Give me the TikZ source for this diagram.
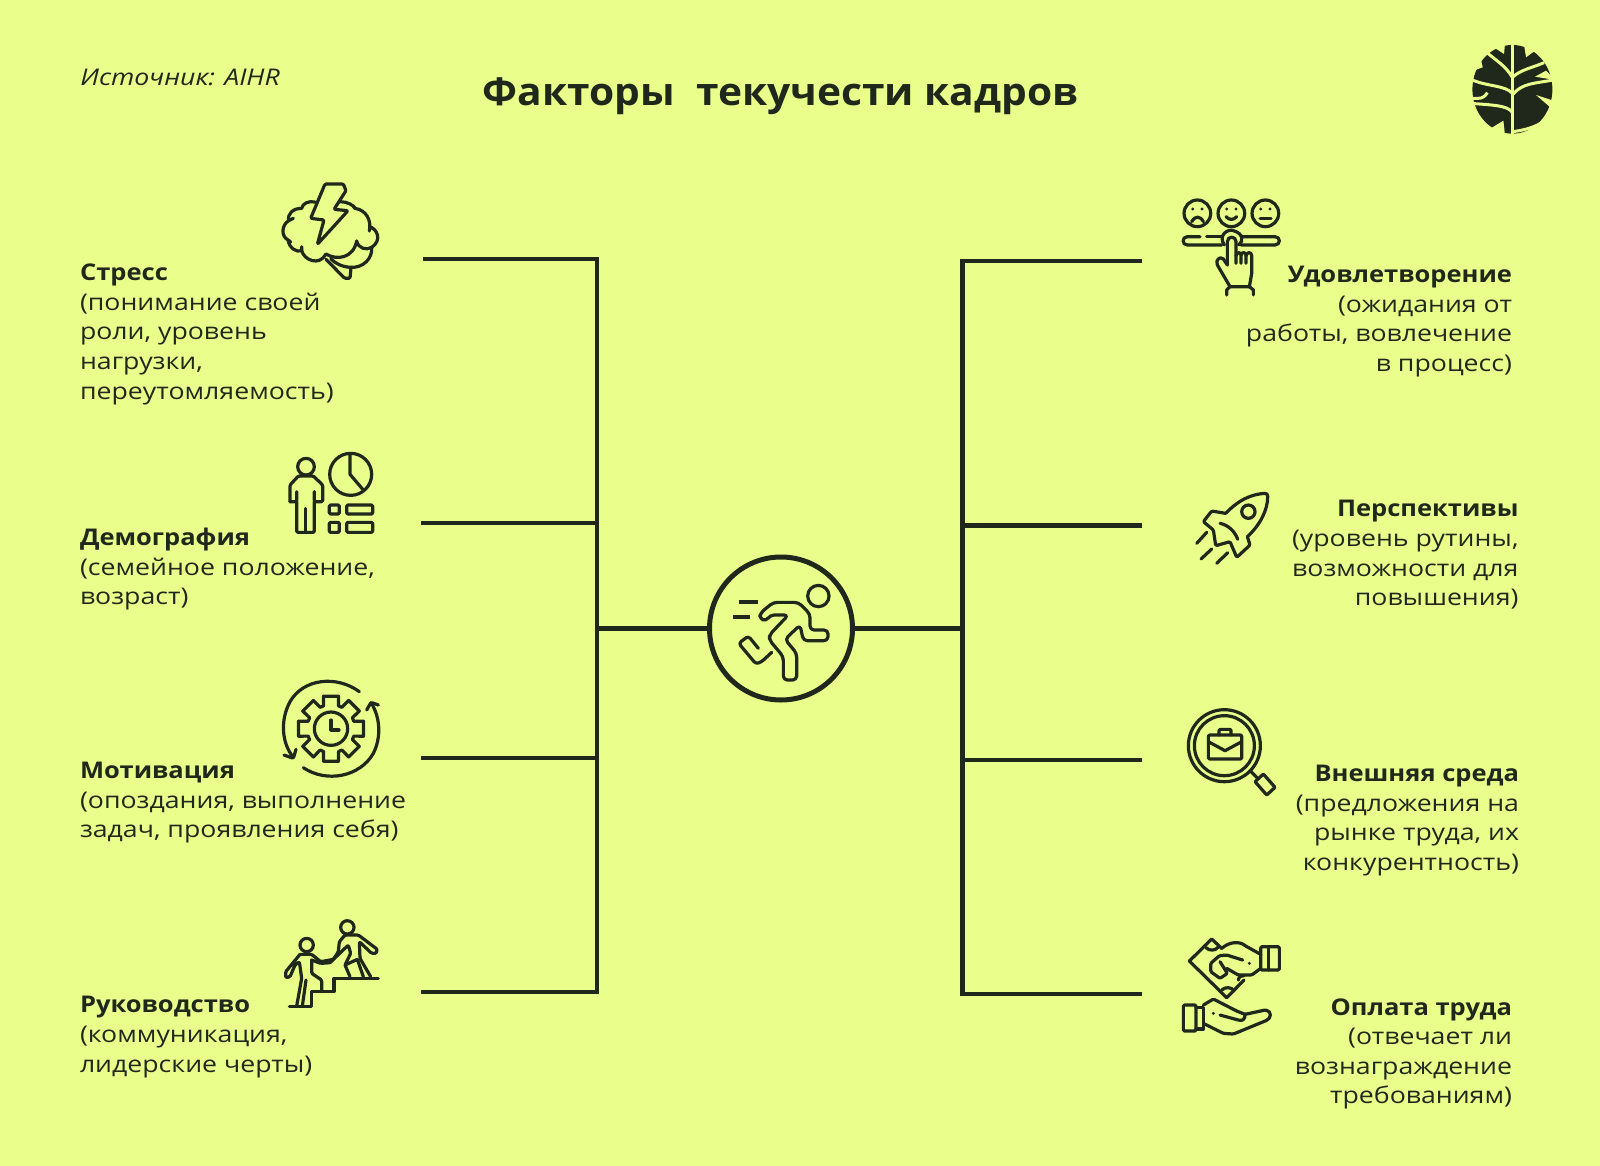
\documentclass[tikz,border=0pt]{standalone}
\usepackage{fontspec}
\setmainfont[FakeStretch=1.16]{Open Sans}
\newfontfamily\headfam[FakeStretch=1.11]{Open Sans}
\newfontfamily\titlefam[FakeStretch=1.06]{Open Sans}
\newcommand{\hd}[1]{{\headfam\bfseries #1}}
\usetikzlibrary{calc}
\definecolor{bgc}{HTML}{EAFF8B}
\definecolor{dk}{HTML}{20281C}
\tikzset{
  zm/.style 2 args={x=0.16667pt,y=-0.16667pt,shift={(#1*3,#2*3)},line width=1.6pt,line cap=round,line join=round,draw=dk,rounded corners=0.6pt},
  conn/.style={draw=dk,line width=2.2pt,line join=miter},
  ltext/.style={anchor=north west,align=left,inner sep=0pt,outer sep=0pt,text=dk,font=\fontsize{11.5pt}{14.8pt}\selectfont},
  rtext/.style={anchor=north east,align=right,inner sep=0pt,outer sep=0pt,text=dk,font=\fontsize{11.5pt}{14.8pt}\selectfont},
  hub/.style={circle,draw=dk,line width=2.5pt,minimum size=71.5pt,inner sep=0pt},
  sc/.style={rounded corners=0pt},
}
\begin{document}
\begin{tikzpicture}[x=0.5pt,y=-0.5pt]
\fill[bgc] (0,0) rectangle (1600,1166);
\useasboundingbox (0,0) rectangle (1600,1166);

% header
\node[anchor=center,inner sep=0pt,text=dk,font=\fontsize{19.2pt}{23pt}\selectfont\titlefam\bfseries] (title) at (780.5,96) {Факторы\ \ текучести кадров};
\node[anchor=west,inner sep=0pt,text=dk,font=\fontsize{11.5pt}{14pt}\selectfont\itshape] (source) at (80,77) {Источник: AIHR};

% hub and connectors
\node[hub] (center) at (781,628.5) {};
\coordinate (lspine) at (597,628.5);
\coordinate (rspine) at (962.5,628.5);
\coordinate (la) at (423,259);
\coordinate (lat) at (597,259);
\coordinate (lb) at (421,523);
\coordinate (lbt) at (597,523);
\coordinate (lc) at (421,758);
\coordinate (lct) at (597,758);
\coordinate (ld) at (421,992);
\coordinate (ldt) at (597,992);
\coordinate (ra) at (1142,261);
\coordinate (rat) at (962.5,261);
\coordinate (rb) at (1142,525.5);
\coordinate (rbt) at (962.5,525.5);
\coordinate (rc) at (1142,760);
\coordinate (rct) at (962.5,760);
\coordinate (rd) at (1142,994);
\coordinate (rdt) at (962.5,994);
\draw[conn] (la) -- (lat) -- (ldt) -- (ld);
\draw[conn] (lb) -- (lbt);
\draw[conn] (lc) -- (lct);
\draw[conn] (lspine) -- (center);
\draw[conn] (ra) -- (rat) -- (rdt) -- (rd);
\draw[conn] (rb) -- (rbt);
\draw[conn] (rc) -- (rct);
\draw[conn] (rspine) -- (center);

% left texts
\node[ltext] (stress) at (80,264) {\hd{Стресс}\\(понимание своей\\роли, уровень\\нагрузки,\\переутомляемость)};
\node[ltext] (demo) at (80,528) {\hd{Демография}\\(семейное положение,\\возраст)};
\node[ltext] (motiv) at (80,762) {\hd{Мотивация}\\(опоздания, выполнение\\задач, проявления себя)};
\node[ltext] (lead) at (80,996.5) {\hd{Руководство}\\(коммуникация,\\лидерские черты)};
% right texts
\node[rtext] (satis) at (1512,266) {\hd{Удовлетворение}\\(ожидания от\\работы, вовлечение\\в процесс)};
\node[rtext] (persp) at (1518.5,500.5) {\hd{Перспективы}\\(уровень рутины,\\возможности для\\повышения)};
\node[rtext] (envir) at (1519,765) {\hd{Внешняя среда}\\(предложения на\\рынке труда, их\\конкурентность)};
\node[rtext] (pay) at (1512,998.5) {\hd{Оплата труда}\\(отвечает ли\\вознаграждение\\требованиям)};

% brain
\begin{scope}[zm={260}{160}]
\draw (195,72) -- (250,72) -- (258,92) -- (222,148) -- (264,152) -- (172,253) -- (192,180) -- (152,175) -- cycle;
\draw[sc] (165,126) .. controls (145,122) and (128,130) .. (125,145) .. controls (100,145) and (82,160) .. (86,182) .. controls (65,195) and (62,228) .. (84,240) .. controls (88,265) and (110,278) .. (125,272) .. controls (132,300) and (178,320) .. (198,282) .. controls (230,302) and (280,295) .. (290,243);
\draw[sc] (86,182) -- (100,175) (84,240) -- (92,246) (125,272) -- (125,260);
\draw[sc] (240,125) .. controls (262,125) and (280,135) .. (285,145) .. controls (318,150) and (335,180) .. (328,213) (328,200) .. controls (350,205) and (368,240) .. (335,262) .. controls (318,272) and (295,265) .. (290,243);
\draw[sc] (285,145) -- (280,138);
\draw[sc] (335,262) .. controls (338,295) and (310,325) .. (270,322) .. controls (245,320) and (225,310) .. (212,296);
\draw (198,298) -- (254,355) -- (270,355) -- (273,322);
\end{scope}

% person + chart
\begin{scope}[zm={270}{440}]
\draw (108,80) circle (25);
\draw (60,185) -- (60,135) -- (85,108) -- (130,108) -- (158,135) -- (158,185) -- (133,185) -- (133,155);
\draw (60,185) -- (80,185) -- (80,155);
\draw (80,185) -- (80,277) -- (133,277) -- (133,185);
\draw (107,205) -- (107,277);
\draw (242,103) circle (63);
\draw[sc] (240,42) -- (240,103) -- (280,150);
\draw (178,195) rectangle (208,222);
\draw (230,195) rectangle (308,222);
\draw (178,247) rectangle (208,277);
\draw (230,247) rectangle (308,277);
\end{scope}

% gear
\begin{scope}[zm={270}{670}]
\draw[sc] (268,65) .. controls (200,15) and (100,25) .. (60,95) .. controls (30,150) and (35,220) .. (70,262);
\draw (42,255) -- (70,265) -- (78,238);
\draw[sc] (100,293) .. controls (170,340) and (270,320) .. (310,250) .. controls (335,200) and (330,140) .. (303,98);
\draw (290,120) -- (303,97) -- (325,105);
\begin{scope}[shift={(183,176)},rounded corners=0pt]
\foreach \a in {0,45,...,315}{
  \draw (\a-18:72) -- (\a-13:100) -- (\a+13:100) -- (\a+18:72) -- (\a+27:72);
}
\draw (0,0) circle (50);
\draw (0,-26) -- (0,4) -- (24,4);
\end{scope}
\end{scope}

% leader
\begin{scope}[zm={270}{910}]
\draw[sc] (58,290) -- (125,290) -- (125,245) -- (192,245) -- (192,205) -- (325,205);
\draw (232,52) circle (20);
\draw (110,105) circle (20);
\draw (90,133) -- (125,133) -- (152,155) -- (190,148) -- (205,125) -- (208,95) -- (225,75) -- (265,75) -- (322,118) -- (318,130) -- (305,130) -- (268,95) -- (270,145) -- (302,200);
\draw (90,133) -- (47,185) -- (47,203) -- (60,200) -- (75,165) -- (88,155) -- (95,205) -- (80,288);
\draw (125,150) -- (125,190) -- (155,210) -- (155,245);
\draw (108,210) -- (97,288);
\draw (180,158) -- (152,160) -- (125,150);
\draw (180,158) -- (235,105) -- (242,130) -- (225,165) -- (240,200);
\draw (262,148) -- (225,165) (262,148) -- (280,200);
\end{scope}

% runner
\begin{scope}[zm={690}{540}]
\draw (385,168) circle (32);
\draw[line width=2pt,line cap=butt,sc] (147,186) -- (205,186) (128,230) -- (180,230);
\draw[rounded corners=2pt] (250,187) -- (325,187) -- (360,222) -- (360,270) -- (414,270) -- (414,302) -- (340,302) -- (330,255) -- (285,298) -- (320,340) -- (320,420) -- (280,420) -- (280,350) -- (238,300) -- (238,285) -- (295,225) -- (240,225) -- (228,244) -- (208,235) -- (212,218) -- cycle;
\draw[rounded corners=1.5pt] (205,325) -- (175,288) -- (146,310) -- (198,372) -- (215,365) -- (245,337);
\end{scope}

% satisfaction
\begin{scope}[zm={1170}{185}]
\draw (82,85) circle (40);
\draw (184,85) circle (40);
\draw (286,85) circle (40);
\fill[dk] (68,72) circle (5) (96,72) circle (5) (170,72) circle (5) (198,72) circle (5) (272,72) circle (5) (300,72) circle (5);
\draw[sc] (65,110) .. controls (75,92) and (90,92) .. (100,110);
\draw[sc] (168,95) .. controls (178,106) and (190,106) .. (200,95);
\draw[sc] (270,100) -- (303,100);
\draw[sc] (90,155) -- (52,155) .. controls (35,155) and (35,180) .. (52,180) -- (155,180);
\draw[sc] (110,155) -- (155,155);
\draw[sc] (213,155) -- (315,155) .. controls (332,155) and (332,180) .. (315,180) -- (213,180);
\draw[sc] (163,180) .. controls (142,150) and (175,130) .. (190,137) .. controls (220,145) and (222,170) .. (205,180);
\draw[sc] (172,240) -- (172,170) .. controls (172,152) and (198,152) .. (198,170) -- (198,235);
\draw[sc] (198,212) .. controls (200,200) and (213,200) .. (213,212) -- (213,235);
\draw[sc] (213,210) .. controls (215,200) and (228,200) .. (228,212) -- (228,235);
\draw[sc] (228,212) .. controls (230,200) and (245,200) .. (245,212) -- (245,265) -- (238,305);
\draw[sc] (172,240) -- (160,222) .. controls (150,212) and (135,225) .. (142,240) -- (180,305) -- (238,305);
\draw[sc] (170,330) -- (170,315) -- (180,305);
\draw[sc] (250,330) -- (250,315) -- (238,305);
\end{scope}

% rocket
\begin{scope}[zm={1185}{480}]
\draw[sc] (122,100) .. controls (165,55) and (205,42) .. (240,40) .. controls (246,40) and (248,44) .. (248,50) .. controls (248,90) and (225,135) .. (187,170);
\draw (122,100) -- (80,93) -- (55,125) -- (85,150) -- (92,197) -- (135,185) -- (155,232) -- (195,195) -- (187,170);
\draw (190,95) circle (20);
\draw[sc] (105,130) .. controls (130,135) and (150,155) .. (158,178);
\draw[sc] (35,190) -- (65,157) (48,237) -- (80,207) (95,250) -- (128,218);
\end{scope}

% magnifier
\begin{scope}[zm={1175}{700}]
\draw (148,137) circle (108);
\draw (148,137) circle (90);
\draw[sc] (228,215) -- (248,235);
\draw[rounded corners=0.4pt] (240,245) -- (265,222) -- (300,262) -- (275,285) -- cycle;
\draw (100,105) rectangle (200,177);
\draw[sc] (100,125) -- (150,152) -- (200,125);
\draw (132,105) -- (132,88) -- (168,88) -- (168,105);
\end{scope}

% hands
\begin{scope}[zm={1170}{925}]
\draw[sc] (155,70) -- (125,42) -- (58,108) -- (170,218) -- (222,165);
\draw[sc] (108,68) .. controls (118,78) and (135,78) .. (145,66);
\draw[sc] (155,195) .. controls (165,185) and (185,185) .. (192,198);
\draw[sc] (205,165) .. controls (205,155) and (215,150) .. (222,152);
\draw (272,65) rectangle (328,135);
\draw (295,65) -- (295,135);
\draw (155,70) .. controls (180,48) and (210,50) .. (225,62) -- (272,88);
\draw (272,130) -- (245,150) -- (205,150) -- (170,130);
\draw (218,105) -- (170,90) -- (148,92) -- (122,115) -- (122,140) -- (150,160) -- (172,145) -- (150,110);
\fill[dk] (238,115) circle (5);
\draw (40,240) rectangle (78,318);
\draw (100,248) -- (78,248) (100,312) -- (78,312) (100,248) -- (100,312);
\draw (100,240) -- (130,222) -- (200,258) -- (225,268) -- (285,255) .. controls (305,258) and (305,280) .. (285,288) -- (190,327) -- (160,325) -- (100,295);
\fill[dk] (130,265) circle (5);
\draw[sc] (150,270) -- (205,285) .. controls (220,290) and (225,280) .. (225,268);
\end{scope}

% logo
\begin{scope}[zm={1450}{30},line width=1.5pt,draw=bgc,rounded corners=0pt,line cap=butt]
\fill[dk] (187,178) ellipse (120 and 133);
\draw (187,38) -- (187,318);
\draw (187,142) .. controls (165,105) and (135,90) .. (108,65);
\draw (190,140) .. controls (210,120) and (250,112) .. (282,98);
\draw (187,190) .. controls (165,165) and (110,170) .. (62,148);
\draw (190,192) .. controls (215,160) and (255,160) .. (310,150);
\draw (187,248) .. controls (175,225) and (120,225) .. (62,220);
\draw (190,305) .. controls (220,300) and (250,295) .. (285,272);
\draw (62,205) -- (85,205) .. controls (95,205) and (105,200) .. (112,188);
\fill[bgc,draw=none] (128,50) -- (162,72) -- (165,38) -- cycle;
\fill[bgc,draw=none] (222,45) -- (228,82) -- (255,62) -- cycle;
\fill[bgc,draw=none] (62,125) -- (98,112) -- (92,85) -- cycle;
\fill[bgc,draw=none] (255,140) -- (288,122) -- (315,150) -- cycle;
\fill[bgc,draw=none] (258,195) -- (310,212) -- (310,240) -- cycle;
\fill[bgc,draw=none] (122,295) -- (160,272) -- (165,318) -- cycle;
\end{scope}
\end{tikzpicture}
\end{document}
